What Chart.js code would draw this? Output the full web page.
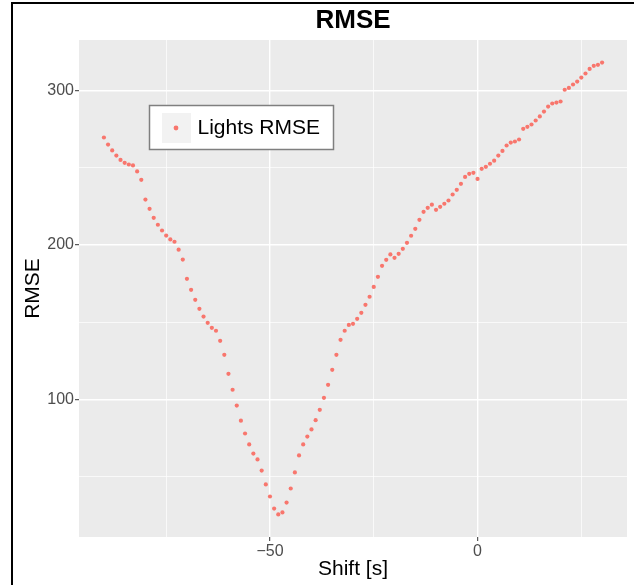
<!DOCTYPE html>
<html>
<head>
<meta charset="utf-8">
<script src="https://cdn.jsdelivr.net/npm/chart.js@4/dist/chart.umd.min.js"></script>
<style>
  html, body { margin: 0; padding: 0; background: #fff; }
  canvas { display: block; }
</style>
</head>
<body>
<canvas id="grafico" width="634" height="585"></canvas>
<script>
// shift [s] of each sample
var shifts = [
  -90, -89, -88, -87, -86, -85, -84, -83, -82, -81,
  -80, -79, -78, -77, -76, -75, -74, -73, -72, -71,
  -70, -69, -68, -67, -66, -65, -64, -63, -62, -61,
  -60, -59, -58, -57, -56, -55, -54, -53, -52, -51,
  -50, -49, -48, -47, -46, -45, -44, -43, -42, -41,
  -40, -39, -38, -37, -36, -35, -34, -33, -32, -31,
  -30, -29, -28, -27, -26, -25, -24, -23, -22, -21,
  -20, -19, -18, -17, -16, -15, -14, -13, -12, -11,
  -10, -9, -8, -7, -6, -5, -4, -3, -2, -1,
  0, 1, 2, 3, 4, 5, 6, 7, 8, 9,
  10, 11, 12, 13, 14, 15, 16, 17, 18, 19,
  20, 21, 22, 23, 24, 25, 26, 27, 28, 29,
  30
];
// Lights RMSE
var rmse = [
  269.6, 265.0, 261.2, 257.9, 255.1, 253.2, 252.1, 251.5, 247.6, 242.2,
  229.4, 223.4, 217.6, 213.1, 209.4, 206.1, 203.6, 202.1, 197.0, 190.6,
  178.1, 171.0, 164.5, 158.7, 153.7, 149.6, 146.4, 144.5, 138.0, 128.9,
  116.6, 106.3, 96.1, 86.3, 78.0, 70.9, 65.0, 61.2, 54.0, 45.0,
  37.2, 29.4, 25.6, 26.9, 33.3, 42.4, 52.8, 63.8, 70.9, 76.0,
  80.6, 86.6, 93.3, 101.1, 109.5, 119.2, 128.9, 138.6, 144.5, 148.3,
  149.0, 152.2, 156.1, 161.3, 166.5, 172.9, 179.4, 186.5, 190.4, 193.9,
  191.7, 194.3, 197.5, 201.4, 206.0, 210.5, 216.3, 221.5, 224.1, 226.1,
  222.8, 224.7, 226.7, 228.8, 232.7, 235.7, 239.6, 244.1, 246.1, 246.7,
  242.8, 249.3, 250.6, 252.6, 254.6, 257.9, 260.9, 264.4, 266.3, 267.0,
  268.3, 275.2, 276.5, 278.0, 280.6, 283.2, 286.4, 289.6, 291.6, 292.2,
  292.9, 300.5, 301.7, 303.9, 305.8, 308.4, 311.0, 314.0, 316.0, 316.6,
  318.1
];
var xTicksMajor = [-50, 0];
var yTicksMajor = [100, 200, 300];

var fonte = '"Liberation Sans", Arial, sans-serif';
var corPonto = '#F8766D';

var pontos = shifts.map(function(s, i) { return { x: s, y: rmse[i] }; });

function eMajor(lista, v) { return lista.indexOf(v) >= 0; }

var decoracao = {
  id: 'decoracao',
  beforeDraw: function(chart) {
    var ctx = chart.ctx, a = chart.chartArea;
    ctx.save();
    ctx.fillStyle = '#fff';
    ctx.fillRect(0, 0, chart.width, chart.height);
    ctx.fillStyle = '#EBEBEB';
    ctx.fillRect(a.left, a.top, a.right - a.left, a.bottom - a.top);
    ctx.restore();
  },
  afterDraw: function(chart) {
    var ctx = chart.ctx, a = chart.chartArea;
    var cx = (a.left + a.right) / 2, cy = (a.top + a.bottom) / 2;
    ctx.save();
    // moldura preta
    ctx.fillStyle = '#000';
    ctx.fillRect(11, 2, 2, chart.height - 2);
    ctx.fillRect(11, 2, chart.width - 11, 2);
    // titulo
    ctx.fillStyle = '#000';
    ctx.textAlign = 'center';
    ctx.textBaseline = 'middle';
    ctx.font = 'bold 26px ' + fonte;
    ctx.fillText('RMSE', cx, 21);
    // titulos dos eixos
    ctx.font = '21px ' + fonte;
    ctx.fillText('Shift [s]', cx, 569);
    ctx.save();
    ctx.translate(33, cy);
    ctx.rotate(-Math.PI / 2);
    ctx.fillText('RMSE', 0, 0);
    ctx.restore();
    // legenda
    var lx = a.left + 70.5, ly = a.top + 65.5;
    ctx.fillStyle = '#fff';
    ctx.fillRect(lx, ly, 184, 44);
    ctx.strokeStyle = '#7F7F7F';
    ctx.lineWidth = 1.5;
    ctx.strokeRect(lx, ly, 184, 44);
    ctx.fillStyle = '#F2F2F2';
    ctx.fillRect(lx + 12.5, ly + 7.5, 29, 30);
    ctx.fillStyle = corPonto;
    ctx.beginPath();
    ctx.arc(lx + 26.5, ly + 22.5, 2.4, 0, Math.PI * 2);
    ctx.fill();
    ctx.fillStyle = '#000';
    ctx.textAlign = 'left';
    ctx.font = '21px ' + fonte;
    ctx.fillText(chart.data.datasets[0].label, lx + 48, ly + 23);
    ctx.restore();
  }
};

var ctx = document.getElementById('grafico').getContext('2d');
var chart = new Chart(ctx, {
    type: 'scatter',
    data: {
        datasets: [{
            label: 'Lights RMSE',
            data: pontos,
            backgroundColor: corPonto,
            borderWidth: 0,
            pointRadius: 2.1,
            pointHoverRadius: 2.1
        }]
    },
    options: {
        responsive: false,
        animation: false,
        devicePixelRatio: 1,
        layout: { padding: { top: 40, right: 7, left: 0, bottom: 0 } },
        plugins: {
            legend: { display: false },
            tooltip: { enabled: false },
            title: { display: false }
        },
        scales: {
            x: {
                type: 'linear',
                min: -96,
                max: 36,
                border: { display: false },
                afterFit: function(scale) { scale.height = 48; },
                grid: {
                    color: '#fff',
                    lineWidth: function(c) { return eMajor(xTicksMajor, c.tick.value) ? 1.4 : 0.7; },
                    tickColor: function(c) { return eMajor(xTicksMajor, c.tick.value) ? '#333' : 'rgba(0,0,0,0)'; },
                    tickWidth: 1,
                    tickLength: 4
                },
                ticks: {
                    stepSize: 25,
                    includeBounds: false,
                    autoSkip: false,
                    maxRotation: 0,
                    padding: 1,
                    color: '#4D4D4D',
                    font: { family: fonte, size: 16 },
                    callback: function(v) {
                        if (!eMajor(xTicksMajor, v)) return '';
                        return v < 0 ? '\u2212' + Math.abs(v) : String(v);
                    }
                }
            },
            y: {
                type: 'linear',
                min: 11,
                max: 332.7,
                border: { display: false },
                afterFit: function(scale) { scale.width = 79; },
                grid: {
                    color: '#fff',
                    lineWidth: function(c) { return eMajor(yTicksMajor, c.tick.value) ? 1.4 : 0.7; },
                    tickColor: function(c) { return eMajor(yTicksMajor, c.tick.value) ? '#333' : 'rgba(0,0,0,0)'; },
                    tickWidth: 1,
                    tickLength: 4
                },
                ticks: {
                    stepSize: 50,
                    includeBounds: false,
                    autoSkip: false,
                    padding: 1,
                    color: '#4D4D4D',
                    font: { family: fonte, size: 16 },
                    callback: function(v) {
                        return eMajor(yTicksMajor, v) ? String(v) : '';
                    }
                }
            }
        }
    },
    plugins: [decoracao]
});
</script>
</body>
</html>
